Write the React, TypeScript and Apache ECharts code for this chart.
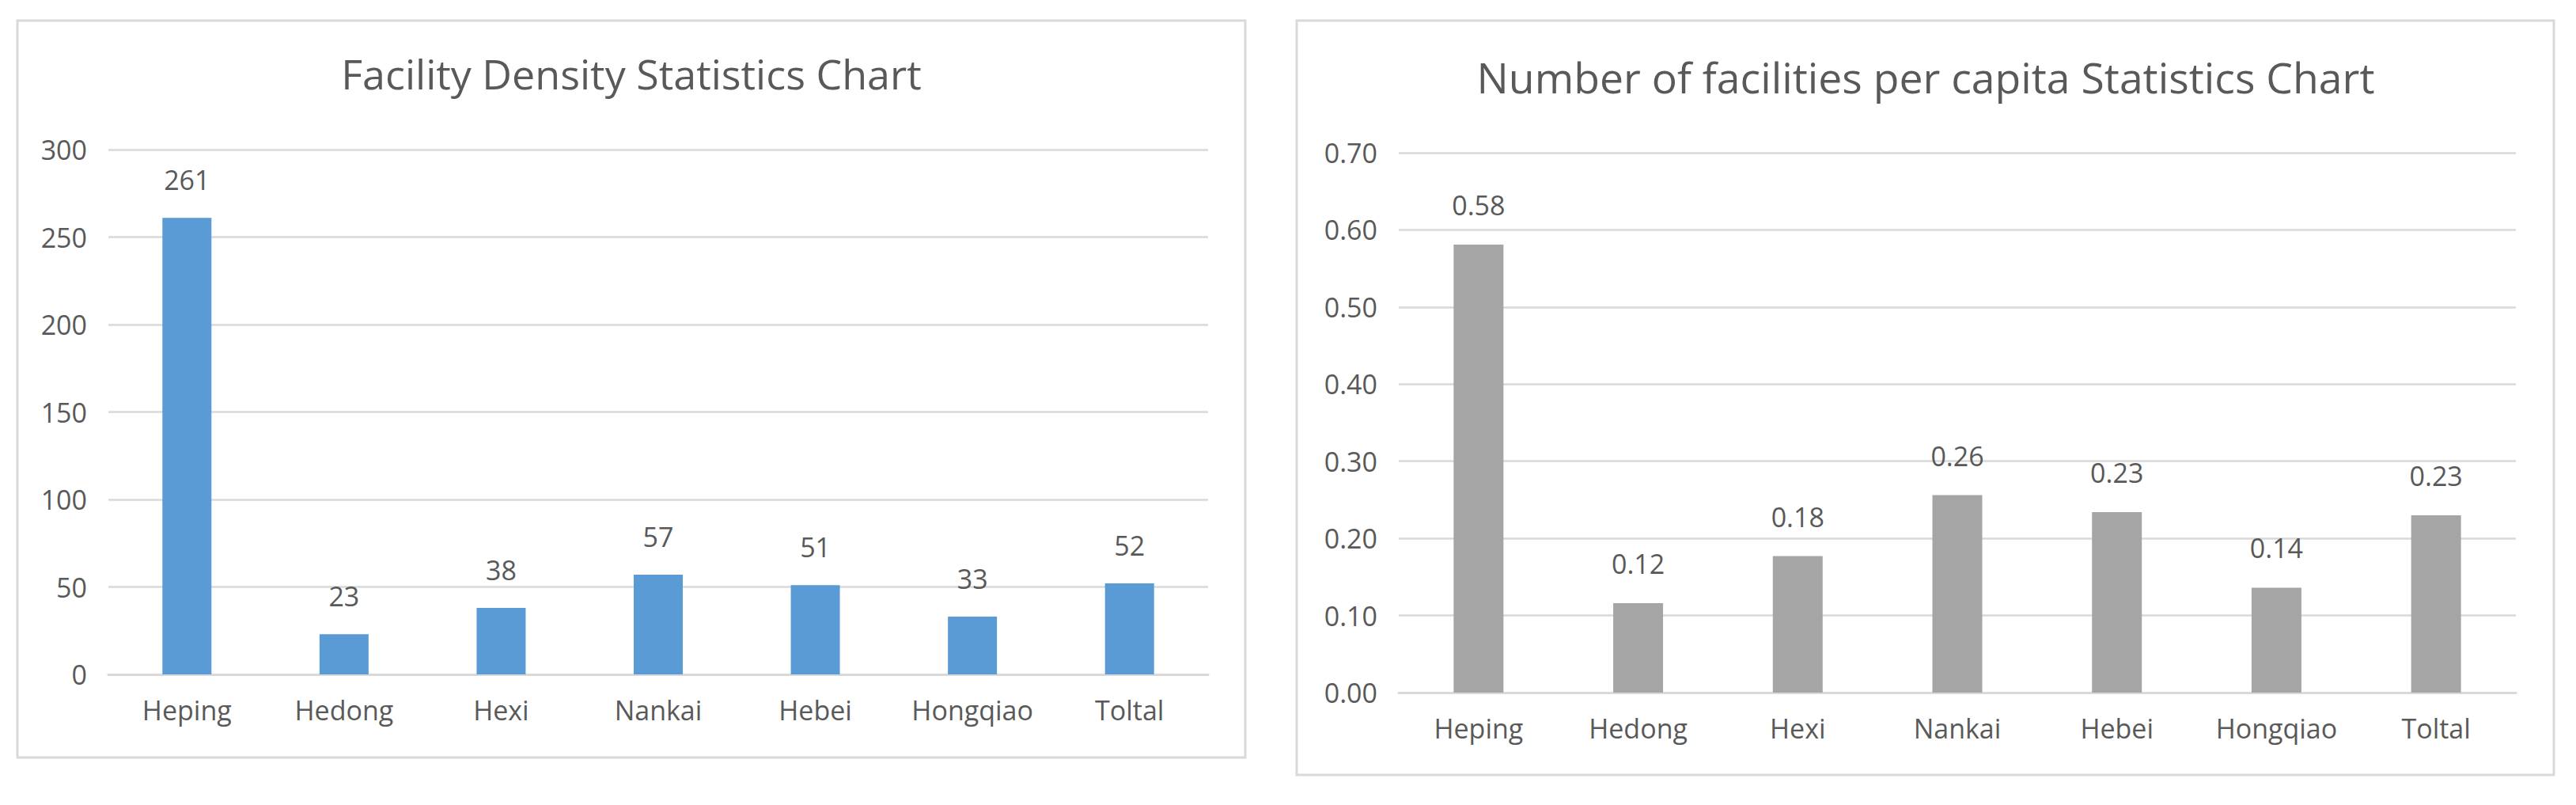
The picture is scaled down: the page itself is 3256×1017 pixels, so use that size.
import React, { useEffect, useRef } from "react";
import * as echarts from "echarts";

const categories = ["Heping", "Hedong", "Hexi", "Nankai", "Hebei", "Hongqiao", "Toltal"];
const densityValues = [261, 23, 38, 57, 51, 33, 52];
const perCapitaValues = [0.581, 0.116, 0.177, 0.256, 0.234, 0.136, 0.23];
const leftTitle = "Facility Density Statistics Chart";
const rightTitle = "Number of facilities per capita Statistics Chart";

const FONT = "'Open Sans', 'Noto Sans', sans-serif";
const TEXT = "#595959";
const GRID = "#D9D9D9";

export default function App() {
  const ref = useRef<HTMLDivElement>(null);
  useEffect(() => {
    if (!ref.current) return;
    const chart = echarts.init(ref.current, null, { renderer: "svg" });
    const catAxis = (gridIndex: number) => ({
      type: "category",
      gridIndex,
      data: categories,
      axisTick: { show: false },
      axisLine: { show: true, lineStyle: { color: GRID, width: 3 } },
      axisLabel: { color: TEXT, fontSize: 34, fontFamily: FONT, margin: 28, interval: 0 },
    });
    const valAxis = (gridIndex: number, max: number, interval: number, fmt: (v: number) => string) => ({
      type: "value",
      gridIndex,
      min: 0,
      max,
      interval,
      axisLine: { show: false },
      axisTick: { show: false },
      splitLine: { show: true, lineStyle: { color: GRID, width: 2.5 } },
      axisLabel: { color: TEXT, fontSize: 34, fontFamily: FONT, margin: 27, formatter: fmt },
    });
    chart.setOption({
      animation: false,
      backgroundColor: "#ffffff",
      grid: [
        { left: 137, top: 189, width: 1390, height: 663, containLabel: false },
        { left: 1768, top: 193, width: 1412, height: 682, containLabel: false },
      ],
      xAxis: [catAxis(0), catAxis(1)],
      yAxis: [
        valAxis(0, 300, 50, (v: number) => String(v)),
        valAxis(1, 0.7, 0.1, (v: number) => v.toFixed(2)),
      ],
      series: [
        {
          type: "bar",
          xAxisIndex: 0,
          yAxisIndex: 0,
          data: densityValues,
          barWidth: 62,
          itemStyle: { color: "#5B9BD5" },
          label: {
            show: true,
            position: "top",
            distance: 31,
            color: TEXT,
            fontSize: 34,
            fontFamily: FONT,
          },
        },
        {
          type: "bar",
          xAxisIndex: 1,
          yAxisIndex: 1,
          data: perCapitaValues,
          barWidth: 63,
          itemStyle: { color: "#A5A5A5" },
          label: {
            show: true,
            position: "top",
            distance: 33,
            color: TEXT,
            fontSize: 34,
            fontFamily: FONT,
            formatter: (p: any) => Number(p.value).toFixed(2),
          },
        },
      ],
      graphic: [
        {
          type: "rect",
          shape: { x: 22, y: 26, width: 1552, height: 931 },
          style: { fill: "none", stroke: GRID, lineWidth: 3 },
          z: -1,
        },
        {
          type: "rect",
          shape: { x: 1639, y: 26, width: 1589, height: 953 },
          style: { fill: "none", stroke: GRID, lineWidth: 3 },
          z: -1,
        },
        {
          type: "text",
          x: 798,
          y: 92,
          style: {
            text: leftTitle,
            fill: TEXT,
            fontSize: 52,
            fontFamily: FONT,
            align: "center",
            verticalAlign: "middle",
          },
        },
        {
          type: "text",
          x: 2434,
          y: 97,
          style: {
            text: rightTitle,
            fill: TEXT,
            fontSize: 53.5,
            fontFamily: FONT,
            align: "center",
            verticalAlign: "middle",
          },
        },
      ],
    });
    return () => chart.dispose();
  }, []);
  return (
    <div
      ref={ref}
      style={{ position: "absolute", left: 0, top: 0, width: 3256, height: 1017, background: "#fff" }}
    />
  );
}
